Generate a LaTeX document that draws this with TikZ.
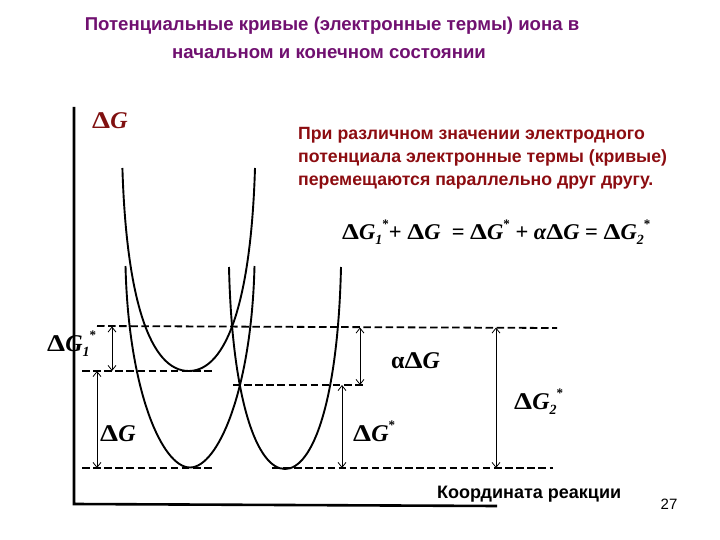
\documentclass[tikz,border=0pt]{standalone}
\usepackage{fontspec}
\setmainfont{Liberation Sans}
\newfontfamily\tms{Liberation Serif}
\usetikzlibrary{arrows.meta}
\definecolor{ttl}{RGB}{112,16,112}
\definecolor{dred}{RGB}{140,12,16}
\definecolor{gred}{RGB}{128,16,16}
\newcommand\dG{{\bfseries\scalebox{1.2}[1]{Δ}\itshape G}}
\newcommand\subx[1]{\raisebox{-0.22em}{\fontsize{14}{15}\selectfont\bfseries\itshape #1}}
\newcommand\supx{\raisebox{0.5em}{\fontsize{13}{14}\selectfont\bfseries *}}
\begin{document}
\begin{tikzpicture}[x=1pt,y=-1pt,
  curve/.style={line width=1.9pt},
  dline/.style={line width=1.8pt, dash pattern=on 7.5pt off 3.6pt},
  dim/.style={line width=0.8pt,{Straight Barb[length=5pt,width=8pt]}-{Straight Barb[length=5pt,width=8pt]}},
  lbl/.style={font=\tms\fontsize{24}{26}\selectfont, inner sep=0pt, anchor=base west},
  txt/.style={font=\fontsize{17.7}{20}\selectfont\bfseries, text=dred, inner sep=0pt, anchor=base west},
  title/.style={font=\fontsize{18.6}{22}\selectfont\bfseries, text=ttl, inner sep=0pt, anchor=base}]
\useasboundingbox (0,0) rectangle (720,540);
% title
\node[title] (t1) at (332,31) {Потенциальные кривые (электронные термы) иона в};
\node[title] (t2) at (329,58.5) {начальном и конечном состоянии};
% red text
\node[txt] (r1) at (298,140) {При различном значении электродного};
\node[txt] (r2) at (298,163) {потенциала электронные термы (кривые)};
\node[txt] (r3) at (298,186) {перемещаются параллельно друг другу.};
% axes
\coordinate (ytop) at (74,107);
\coordinate (orig) at (74,504);
\coordinate (xend) at (497,506);
\draw[line width=2.6pt] (ytop) -- (orig) -- (xend);
% curves
\draw[curve] (122.4,168) .. controls (126.4,300) and (150.4,371) .. (188.7,371)
  .. controls (227,371) and (251,300) .. (255,168);
\draw[curve] (125.5,266) .. controls (128.5,390) and (162,467.5) .. (190,467.5)
  .. controls (218,467.5) and (251.5,390) .. (254.5,266);
\draw[curve] (229,267) .. controls (232,400) and (257,469) .. (285,469)
  .. controls (313,469) and (338,400) .. (341,267);
% levels
\coordinate (L1a) at (97,326);   \coordinate (L1b) at (557,328);
\coordinate (L2a) at (82,371);   \coordinate (L2b) at (213,371);
\coordinate (L3a) at (233,385);  \coordinate (L3b) at (363,385);
\coordinate (L4a) at (82,468);   \coordinate (L4b) at (213,468);
\coordinate (L5a) at (272,468);  \coordinate (L5b) at (553,468);
\draw[dline] (L1a) -- (L1b);
\draw[dline] (L2a) -- (L2b);
\draw[dline] (L3a) -- (L3b);
\draw[dline] (L4a) -- (L4b);
\draw[dline] (L5a) -- (L5b);
% dimension arrows
\coordinate (a1t) at (112,326.5); \coordinate (a1b) at (112,371);
\coordinate (a2t) at (97,371);    \coordinate (a2b) at (97,468);
\coordinate (a3t) at (360,327.5); \coordinate (a3b) at (360,385);
\coordinate (a4t) at (342,385);   \coordinate (a4b) at (342,468);
\coordinate (a5t) at (496,327.5); \coordinate (a5b) at (496,468);
\draw[dim] (a1t) -- (a1b);
\draw[dim] (a2t) -- (a2b);
\draw[dim] (a3t) -- (a3b);
\draw[dim] (a4t) -- (a4b);
\draw[dim] (a5t) -- (a5b);
% labels
\node[lbl, text=gred] (gtop) at (92,129) {\dG};
\node[lbl] (g1) at (47,351) {\dG\subx{1}\supx};
\node[lbl] (g0) at (100,441) {\dG};
\node[lbl] (ag) at (391,368) {{\bfseries α}\dG};
\node[lbl] (gs) at (353,441) {\dG\supx};
\node[lbl] (g2) at (514,409) {\dG\subx{2}\supx};
\node[lbl, font=\tms\fontsize{22.5}{24}\selectfont] (eq) at (342,240)
  {\dG\subx{1}\supx{\bfseries+ }\dG{\bfseries\ \ = }\dG\supx{\bfseries\ + }{\bfseries\itshape α}\dG{\bfseries\ = }\dG\subx{2}\supx};
% axis label, page number
\node[font=\fontsize{18}{20}\selectfont\bfseries, inner sep=0pt, anchor=base west] (xl) at (437,498.5) {Координата реакции};
\node[font=\fontsize{15}{18}\selectfont, inner sep=0pt, anchor=base] (pg) at (669,509) {27};
\end{tikzpicture}
\end{document}
